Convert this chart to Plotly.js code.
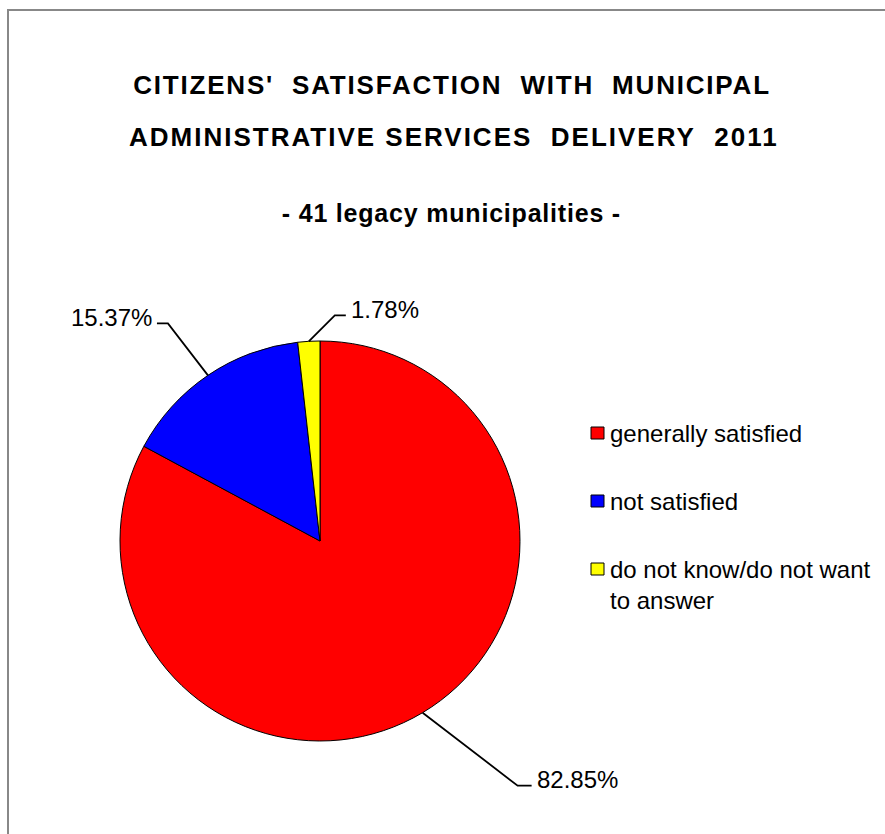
<!DOCTYPE html>
<html>
<head>
<meta charset="utf-8">
<script src="https://cdn.plot.ly/plotly-3.0.1.min.js"></script>
<style>
html, body { margin: 0; padding: 0; background: #ffffff; }
#chart { width: 885px; height: 834px; }
.gtitle { letter-spacing: 1.8px; }
.annotation[data-index="0"] .annotation-text { letter-spacing: 2px; }
.annotation[data-index="1"] .annotation-text { letter-spacing: 0.8px; }
</style>
</head>
<body>
<div id="chart"></div>
<script>
// ---- data ----
const labels = ['generally satisfied', 'not satisfied', 'do not know/do not want to answer'];
const values = [82.85, 15.37, 1.78];
const colors = ['#FF0000', '#0000FF', '#FFFF00'];
const titleLine1 = "CITIZENS'  SATISFACTION  WITH  MUNICIPAL";
const titleLine2 = 'ADMINISTRATIVE SERVICES  DELIVERY  2011';
const subtitle = '- 41 legacy municipalities -';

// ---- style / layout geometry (pixels) ----
const W = 885, H = 834;
const FONT = 'Liberation Sans, Arial, Helvetica, sans-serif';
const pieBox = { x0: 120, x1: 520, y0: 341, y1: 741 };
const leader = [ // elbow offset from slice edge (dx, dy) and horizontal tail length
  { dx: 95, dy: 73, tail: 14 },
  { dx: -40, dy: -52, tail: -11 },
  { dx: 26, dy: -26, tail: 11 }
];
const legendX = 591, legendTextX = 608, legendY = [433, 501, 569];

const px = x => x / W;
const py = y => 1 - y / H;
const nb = s => s.replace(/ /g, '\u00a0');

// slice edge points computed from values (clockwise from 12 o'clock)
const total = values.reduce((a, b) => a + b, 0);
const cx = (pieBox.x0 + pieBox.x1) / 2, cy = (pieBox.y0 + pieBox.y1) / 2;
const r = Math.min(pieBox.x1 - pieBox.x0, pieBox.y1 - pieBox.y0) / 2;
let cum = 0;
const shapes = [];
const annotations = [];

annotations.push({
  xref: 'paper', yref: 'paper', x: px(454), y: py(137), xanchor: 'center', yanchor: 'middle',
  text: nb(titleLine2), showarrow: false,
  font: { family: FONT, size: 26, color: '#000', weight: 'bold' }
});
annotations.push({
  xref: 'paper', yref: 'paper', x: px(451), y: py(213), xanchor: 'center', yanchor: 'middle',
  text: nb(subtitle), showarrow: false,
  font: { family: FONT, size: 25, color: '#000', weight: 'bold' }
});

values.forEach((v, i) => {
  const mid = (cum + v / 2) / total;
  cum += v;
  const a = 2 * Math.PI * mid;
  const ex = cx + r * Math.sin(a), ey = cy - r * Math.cos(a);
  const bx = ex + leader[i].dx, by = ey + leader[i].dy;
  const tx = bx + leader[i].tail;
  shapes.push({
    type: 'path', xref: 'paper', yref: 'paper',
    path: `M ${px(ex)},${py(ey)} L ${px(bx)},${py(by)} L ${px(tx)},${py(by)}`,
    line: { color: '#000', width: 1.8 }
  });
  const right = leader[i].tail > 0;
  annotations.push({
    xref: 'paper', yref: 'paper', x: px(tx + (right ? 3 : -3)), y: py(by - 6),
    xanchor: right ? 'left' : 'right', yanchor: 'middle',
    text: (v / total * 100).toFixed(2) + '%', showarrow: false,
    font: { family: FONT, size: 24, color: '#000' }
  });
});

// legend (drawn from labels/colors)
labels.forEach((lab, i) => {
  shapes.push({
    type: 'rect', xref: 'paper', yref: 'paper',
    x0: px(legendX), x1: px(legendX + 13), y0: py(legendY[i] - 6), y1: py(legendY[i] + 6),
    fillcolor: colors[i], line: { color: '#000', width: 1 }
  });
  const txt = lab === 'do not know/do not want to answer' ? 'do not know/do not want<br>to answer' : lab;
  const lines = txt.split('<br>').length;
  annotations.push({
    xref: 'paper', yref: 'paper', x: px(legendTextX), y: py(legendY[i] + (lines - 1) * 15.5),
    xanchor: 'left', yanchor: 'middle', align: 'left',
    text: txt, showarrow: false,
    font: { family: FONT, size: 24, color: '#000' }
  });
});

// outer frame
shapes.push({
  type: 'rect', xref: 'paper', yref: 'paper',
  x0: px(8), x1: px(W + 20), y0: py(10), y1: py(H + 20),
  line: { color: '#888888', width: 2 }, fillcolor: 'rgba(0,0,0,0)', layer: 'below'
});

const trace = {
  type: 'pie',
  labels: labels,
  values: values,
  sort: false,
  direction: 'clockwise',
  rotation: 0,
  textinfo: 'none',
  hoverinfo: 'label+percent',
  marker: { colors: colors, line: { color: '#000000', width: 1 } },
  domain: { x: [px(pieBox.x0), px(pieBox.x1)], y: [py(pieBox.y1), py(pieBox.y0)] },
  showlegend: false
};

const layout = {
  width: W, height: H,
  margin: { l: 0, r: 0, t: 0, b: 0 },
  paper_bgcolor: '#ffffff',
  plot_bgcolor: '#ffffff',
  showlegend: false,
  title: {
    text: nb(titleLine1),
    xref: 'container', yref: 'container',
    x: 452 / W, y: 1 - 85 / H, xanchor: 'center', yanchor: 'middle',
    font: { family: FONT, size: 26, color: '#000', weight: 'bold' }
  },
  shapes: shapes,
  annotations: annotations
};

Plotly.newPlot('chart', [trace], layout, { displayModeBar: false, staticPlot: true });
</script>
</body>
</html>
